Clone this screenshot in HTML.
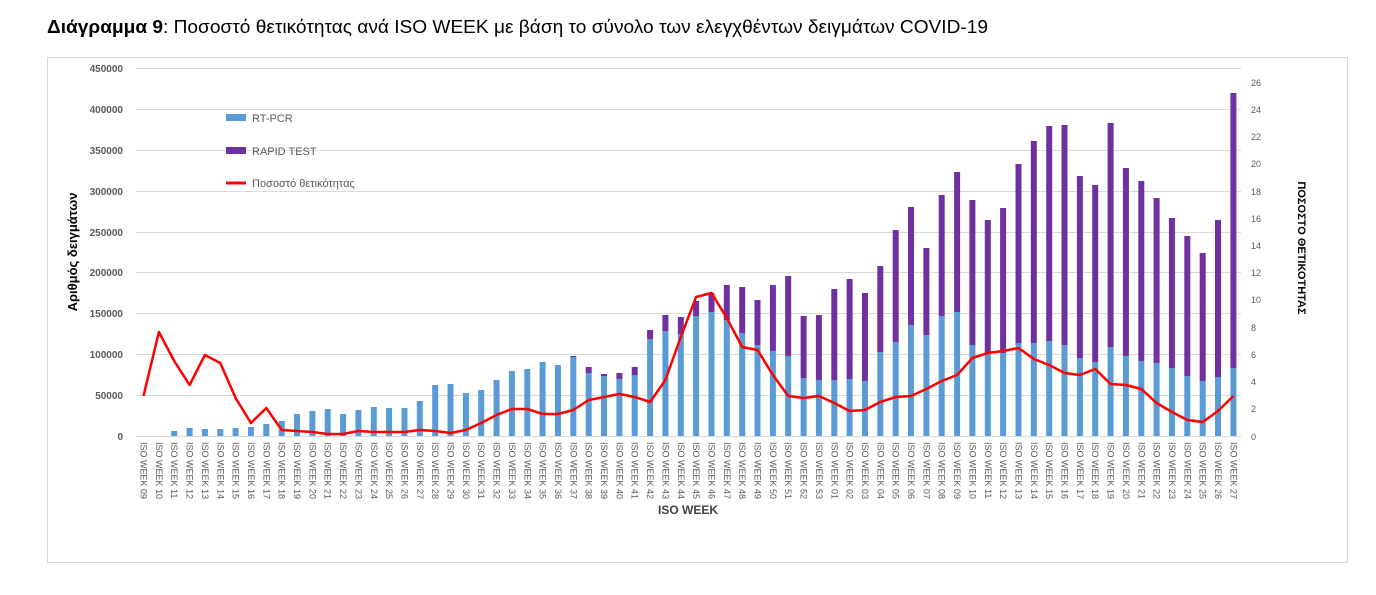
<!DOCTYPE html>
<html><head><meta charset="utf-8"><style>
body{margin:0;background:#fff;width:1376px;height:590px;overflow:hidden;font-family:"Liberation Sans",sans-serif}
</style></head><body>
<svg width="1376" height="590" xmlns="http://www.w3.org/2000/svg" font-family="Liberation Sans, sans-serif">
<text x="47" y="33" font-size="18" fill="#000" textLength="941" lengthAdjust="spacingAndGlyphs"><tspan font-weight="bold">Διάγραμμα 9</tspan>: Ποσοστό θετικότητας ανά ISO WEEK με βάση το σύνολο των ελεγχθέντων δειγμάτων COVID-19</text>
<rect x="47.5" y="57.5" width="1300" height="505" fill="none" stroke="#d9d9d9"/>
<g stroke="#d9d9d9" stroke-width="1">
<line x1="136" x2="1241" y1="68.5" y2="68.5"/><line x1="136" x2="1241" y1="109.5" y2="109.5"/><line x1="136" x2="1241" y1="150.5" y2="150.5"/><line x1="136" x2="1241" y1="191.5" y2="191.5"/><line x1="136" x2="1241" y1="232.5" y2="232.5"/><line x1="136" x2="1241" y1="272.5" y2="272.5"/><line x1="136" x2="1241" y1="313.5" y2="313.5"/><line x1="136" x2="1241" y1="354.5" y2="354.5"/><line x1="136" x2="1241" y1="395.5" y2="395.5"/><line x1="136" x2="1241" y1="436.5" y2="436.5"/>
</g>
<g font-size="10" font-weight="bold" fill="#595959" text-anchor="end">
<text x="123" y="72">450000</text><text x="123" y="113">400000</text><text x="123" y="154">350000</text><text x="123" y="195">300000</text><text x="123" y="236">250000</text><text x="123" y="276">200000</text><text x="123" y="317">150000</text><text x="123" y="358">100000</text><text x="123" y="399">50000</text><text x="123" y="440">0</text>
</g>
<g font-size="9" fill="#595959">
<text x="1251" y="86">26</text><text x="1251" y="113">24</text><text x="1251" y="140">22</text><text x="1251" y="167">20</text><text x="1251" y="195">18</text><text x="1251" y="222">16</text><text x="1251" y="249">14</text><text x="1251" y="276">12</text><text x="1251" y="303">10</text><text x="1251" y="331">8</text><text x="1251" y="358">6</text><text x="1251" y="385">4</text><text x="1251" y="412">2</text><text x="1251" y="440">0</text>
</g>
<text transform="translate(77,252) rotate(-90)" font-size="13" font-weight="bold" text-anchor="middle" fill="#000">Αριθμός δειγμάτων</text>
<text transform="translate(1298,248) rotate(90)" font-size="11" font-weight="bold" text-anchor="middle" fill="#000">ΠΟΣΟΣΤΟ ΘΕΤΙΚΟΤΗΤΑΣ</text>
<text x="688" y="514" font-size="12" font-weight="bold" text-anchor="middle" fill="#404040">ISO WEEK</text>
<rect x="226" y="114" width="20" height="7" fill="#5b9bd5"/><text x="252" y="122" font-size="11" fill="#595959">RT-PCR</text>
<rect x="226" y="147" width="20" height="7" fill="#7030a0"/><text x="252" y="155" font-size="11" fill="#595959">RAPID TEST</text>
<line x1="226" x2="246" y1="183" y2="183" stroke="#ff0000" stroke-width="3"/><text x="252" y="187" font-size="11" fill="#595959">Ποσοστό θετικότητας</text>
<g fill="#5b9bd5">
<rect x="171.2" y="431" width="6" height="5"/><rect x="186.6" y="428" width="6" height="8"/><rect x="201.9" y="429" width="6" height="7"/><rect x="217.3" y="429" width="6" height="7"/><rect x="232.6" y="428" width="6" height="8"/><rect x="247.95" y="427" width="6" height="9"/><rect x="263.3" y="424" width="6" height="12"/><rect x="278.7" y="421" width="6" height="15"/><rect x="294" y="414" width="6" height="22"/><rect x="309.4" y="411" width="6" height="25"/><rect x="324.7" y="409" width="6" height="27"/><rect x="340.1" y="414" width="6" height="22"/><rect x="355.4" y="410" width="6" height="26"/><rect x="370.8" y="407" width="6" height="29"/><rect x="386.1" y="408" width="6" height="28"/><rect x="401.5" y="408" width="6" height="28"/><rect x="416.8" y="401" width="6" height="35"/><rect x="432.2" y="385" width="6" height="51"/><rect x="447.5" y="384" width="6" height="52"/><rect x="462.9" y="393" width="6" height="43"/><rect x="478.2" y="390" width="6" height="46"/><rect x="493.6" y="380" width="6" height="56"/><rect x="508.9" y="371" width="6" height="65"/><rect x="524.3" y="369" width="6" height="67"/><rect x="539.6" y="362" width="6" height="74"/><rect x="554.95" y="365" width="6" height="71"/><rect x="570.3" y="357" width="6" height="79"/><rect x="585.7" y="373" width="6" height="63"/><rect x="601" y="376" width="6" height="60"/><rect x="616.4" y="379" width="6" height="57"/><rect x="631.7" y="375" width="6" height="61"/><rect x="647.1" y="339" width="6" height="97"/><rect x="662.4" y="331" width="6" height="105"/><rect x="677.8" y="334" width="6" height="102"/><rect x="693.1" y="316" width="6" height="120"/><rect x="708.5" y="312" width="6" height="124"/><rect x="723.8" y="320" width="6" height="116"/><rect x="739.2" y="333" width="6" height="103"/><rect x="754.5" y="345" width="6" height="91"/><rect x="769.9" y="351" width="6" height="85"/><rect x="785.2" y="356" width="6" height="80"/><rect x="800.6" y="378" width="6" height="58"/><rect x="815.9" y="380" width="6" height="56"/><rect x="831.3" y="380" width="6" height="56"/><rect x="846.6" y="379" width="6" height="57"/><rect x="861.95" y="381" width="6" height="55"/><rect x="877.3" y="352" width="6" height="84"/><rect x="892.7" y="342" width="6" height="94"/><rect x="908" y="325" width="6" height="111"/><rect x="923.4" y="335" width="6" height="101"/><rect x="938.7" y="316" width="6" height="120"/><rect x="954.1" y="312" width="6" height="124"/><rect x="969.4" y="345" width="6" height="91"/><rect x="984.8" y="353" width="6" height="83"/><rect x="1000.1" y="353" width="6" height="83"/><rect x="1015.5" y="343" width="6" height="93"/><rect x="1030.8" y="343" width="6" height="93"/><rect x="1046.2" y="341" width="6" height="95"/><rect x="1061.5" y="345" width="6" height="91"/><rect x="1076.9" y="358" width="6" height="78"/><rect x="1092.2" y="362" width="6" height="74"/><rect x="1107.6" y="347" width="6" height="89"/><rect x="1122.9" y="356" width="6" height="80"/><rect x="1138.3" y="361" width="6" height="75"/><rect x="1153.6" y="363" width="6" height="73"/><rect x="1168.95" y="368" width="6" height="68"/><rect x="1184.3" y="376" width="6" height="60"/><rect x="1199.7" y="381" width="6" height="55"/><rect x="1215" y="377" width="6" height="59"/><rect x="1230.4" y="368" width="6" height="68"/>
</g>
<g fill="#7030a0">
<rect x="570.3" y="356" width="6" height="1"/><rect x="585.7" y="367" width="6" height="6"/><rect x="601" y="374" width="6" height="2"/><rect x="616.4" y="373" width="6" height="6"/><rect x="631.7" y="367" width="6" height="8"/><rect x="647.1" y="330" width="6" height="9"/><rect x="662.4" y="315" width="6" height="16"/><rect x="677.8" y="317" width="6" height="17"/><rect x="693.1" y="301" width="6" height="15"/><rect x="708.5" y="293" width="6" height="19"/><rect x="723.8" y="285" width="6" height="35"/><rect x="739.2" y="287" width="6" height="46"/><rect x="754.5" y="300" width="6" height="45"/><rect x="769.9" y="285" width="6" height="66"/><rect x="785.2" y="276" width="6" height="80"/><rect x="800.6" y="316" width="6" height="62"/><rect x="815.9" y="315" width="6" height="65"/><rect x="831.3" y="289" width="6" height="91"/><rect x="846.6" y="279" width="6" height="100"/><rect x="861.95" y="293" width="6" height="88"/><rect x="877.3" y="266" width="6" height="86"/><rect x="892.7" y="230" width="6" height="112"/><rect x="908" y="207" width="6" height="118"/><rect x="923.4" y="248" width="6" height="87"/><rect x="938.7" y="195" width="6" height="121"/><rect x="954.1" y="172" width="6" height="140"/><rect x="969.4" y="200" width="6" height="145"/><rect x="984.8" y="220" width="6" height="133"/><rect x="1000.1" y="208" width="6" height="145"/><rect x="1015.5" y="164" width="6" height="179"/><rect x="1030.8" y="141" width="6" height="202"/><rect x="1046.2" y="126" width="6" height="215"/><rect x="1061.5" y="125" width="6" height="220"/><rect x="1076.9" y="176" width="6" height="182"/><rect x="1092.2" y="185" width="6" height="177"/><rect x="1107.6" y="123" width="6" height="224"/><rect x="1122.9" y="168" width="6" height="188"/><rect x="1138.3" y="181" width="6" height="180"/><rect x="1153.6" y="198" width="6" height="165"/><rect x="1168.95" y="218" width="6" height="150"/><rect x="1184.3" y="236" width="6" height="140"/><rect x="1199.7" y="253" width="6" height="128"/><rect x="1215" y="220" width="6" height="157"/><rect x="1230.4" y="93" width="6" height="275"/>
</g>
<polyline fill="none" stroke="#ff0000" stroke-width="2.5" stroke-linejoin="round" points="143.5,396 158.9,332 174.2,361 189.6,385 204.9,355 220.3,363 235.6,398 250.95,423 266.3,408 281.7,430 297,431 312.4,432 327.7,434 343.1,434 358.4,431 373.8,432 389.1,432 404.5,432 419.8,430 435.2,431 450.5,433 465.9,430 481.2,423 496.6,415 511.9,409 527.3,409 542.6,414 557.95,414 573.3,410 588.7,400 604,397 619.4,394 634.7,397 650.1,402 665.4,380 680.8,337 696.1,297 711.5,293 726.8,318 742.2,347 757.5,350 772.9,375 788.2,396 803.6,398 818.9,396 834.3,403 849.6,411 864.95,410 880.3,402 895.7,397 911,396 926.4,389 941.7,381 957.1,375 972.4,358 987.8,353 1003.1,351 1018.5,348 1033.8,359 1049.2,365 1064.5,373 1079.9,375 1095.2,369 1110.6,384 1125.9,385 1141.3,389 1156.6,403 1171.95,412 1187.3,420 1202.7,422 1218,411 1233.4,396"/>
<g font-size="9" fill="#595959">
<text transform="translate(140.5,442) rotate(90)">ISO WEEK 09</text><text transform="translate(155.9,442) rotate(90)">ISO WEEK 10</text><text transform="translate(171.2,442) rotate(90)">ISO WEEK 11</text><text transform="translate(186.6,442) rotate(90)">ISO WEEK 12</text><text transform="translate(201.9,442) rotate(90)">ISO WEEK 13</text><text transform="translate(217.3,442) rotate(90)">ISO WEEK 14</text><text transform="translate(232.6,442) rotate(90)">ISO WEEK 15</text><text transform="translate(247.95,442) rotate(90)">ISO WEEK 16</text><text transform="translate(263.3,442) rotate(90)">ISO WEEK 17</text><text transform="translate(278.7,442) rotate(90)">ISO WEEK 18</text><text transform="translate(294,442) rotate(90)">ISO WEEK 19</text><text transform="translate(309.4,442) rotate(90)">ISO WEEK 20</text><text transform="translate(324.7,442) rotate(90)">ISO WEEK 21</text><text transform="translate(340.1,442) rotate(90)">ISO WEEK 22</text><text transform="translate(355.4,442) rotate(90)">ISO WEEK 23</text><text transform="translate(370.8,442) rotate(90)">ISO WEEK 24</text><text transform="translate(386.1,442) rotate(90)">ISO WEEK 25</text><text transform="translate(401.5,442) rotate(90)">ISO WEEK 26</text><text transform="translate(416.8,442) rotate(90)">ISO WEEK 27</text><text transform="translate(432.2,442) rotate(90)">ISO WEEK 28</text><text transform="translate(447.5,442) rotate(90)">ISO WEEK 29</text><text transform="translate(462.9,442) rotate(90)">ISO WEEK 30</text><text transform="translate(478.2,442) rotate(90)">ISO WEEK 31</text><text transform="translate(493.6,442) rotate(90)">ISO WEEK 32</text><text transform="translate(508.9,442) rotate(90)">ISO WEEK 33</text><text transform="translate(524.3,442) rotate(90)">ISO WEEK 34</text><text transform="translate(539.6,442) rotate(90)">ISO WEEK 35</text><text transform="translate(554.95,442) rotate(90)">ISO WEEK 36</text><text transform="translate(570.3,442) rotate(90)">ISO WEEK 37</text><text transform="translate(585.7,442) rotate(90)">ISO WEEK 38</text><text transform="translate(601,442) rotate(90)">ISO WEEK 39</text><text transform="translate(616.4,442) rotate(90)">ISO WEEK 40</text><text transform="translate(631.7,442) rotate(90)">ISO WEEK 41</text><text transform="translate(647.1,442) rotate(90)">ISO WEEK 42</text><text transform="translate(662.4,442) rotate(90)">ISO WEEK 43</text><text transform="translate(677.8,442) rotate(90)">ISO WEEK 44</text><text transform="translate(693.1,442) rotate(90)">ISO WEEK 45</text><text transform="translate(708.5,442) rotate(90)">ISO WEEK 46</text><text transform="translate(723.8,442) rotate(90)">ISO WEEK 47</text><text transform="translate(739.2,442) rotate(90)">ISO WEEK 48</text><text transform="translate(754.5,442) rotate(90)">ISO WEEK 49</text><text transform="translate(769.9,442) rotate(90)">ISO WEEK 50</text><text transform="translate(785.2,442) rotate(90)">ISO WEEK 51</text><text transform="translate(800.6,442) rotate(90)">ISO WEEK 52</text><text transform="translate(815.9,442) rotate(90)">ISO WEEK 53</text><text transform="translate(831.3,442) rotate(90)">ISO WEEK 01</text><text transform="translate(846.6,442) rotate(90)">ISO WEEK 02</text><text transform="translate(861.95,442) rotate(90)">ISO WEEK 03</text><text transform="translate(877.3,442) rotate(90)">ISO WEEK 04</text><text transform="translate(892.7,442) rotate(90)">ISO WEEK 05</text><text transform="translate(908,442) rotate(90)">ISO WEEK 06</text><text transform="translate(923.4,442) rotate(90)">ISO WEEK 07</text><text transform="translate(938.7,442) rotate(90)">ISO WEEK 08</text><text transform="translate(954.1,442) rotate(90)">ISO WEEK 09</text><text transform="translate(969.4,442) rotate(90)">ISO WEEK 10</text><text transform="translate(984.8,442) rotate(90)">ISO WEEK 11</text><text transform="translate(1000.1,442) rotate(90)">ISO WEEK 12</text><text transform="translate(1015.5,442) rotate(90)">ISO WEEK 13</text><text transform="translate(1030.8,442) rotate(90)">ISO WEEK 14</text><text transform="translate(1046.2,442) rotate(90)">ISO WEEK 15</text><text transform="translate(1061.5,442) rotate(90)">ISO WEEK 16</text><text transform="translate(1076.9,442) rotate(90)">ISO WEEK 17</text><text transform="translate(1092.2,442) rotate(90)">ISO WEEK 18</text><text transform="translate(1107.6,442) rotate(90)">ISO WEEK 19</text><text transform="translate(1122.9,442) rotate(90)">ISO WEEK 20</text><text transform="translate(1138.3,442) rotate(90)">ISO WEEK 21</text><text transform="translate(1153.6,442) rotate(90)">ISO WEEK 22</text><text transform="translate(1168.95,442) rotate(90)">ISO WEEK 23</text><text transform="translate(1184.3,442) rotate(90)">ISO WEEK 24</text><text transform="translate(1199.7,442) rotate(90)">ISO WEEK 25</text><text transform="translate(1215,442) rotate(90)">ISO WEEK 26</text><text transform="translate(1230.4,442) rotate(90)">ISO WEEK 27</text>
</g>
</svg>
</body></html>
